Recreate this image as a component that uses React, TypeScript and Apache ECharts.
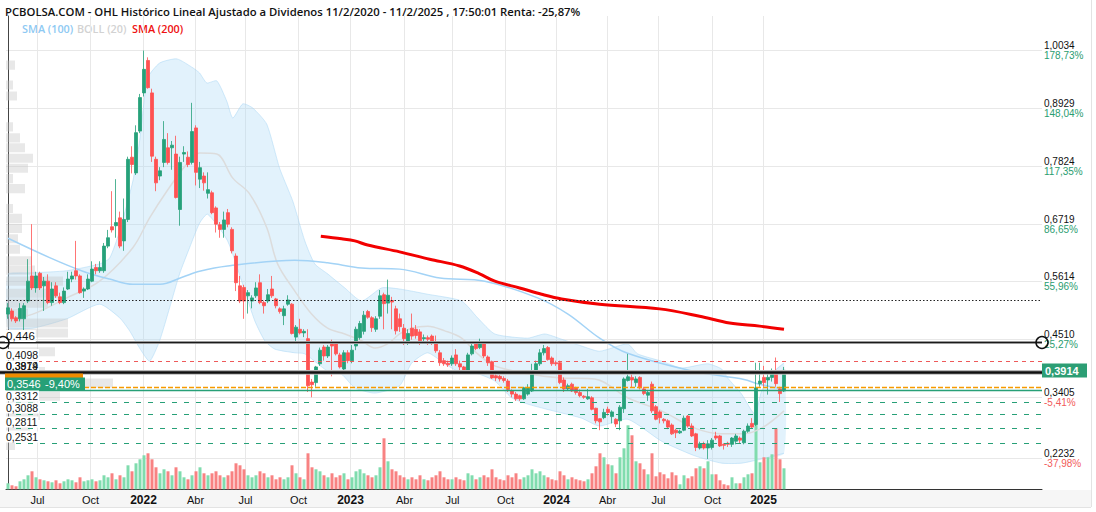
import React, { useEffect, useRef } from "react";
import * as echarts from "echarts";

const TITLE =
  "PCBOLSA.COM - OHL Histórico Lineal Ajustado a Dividenos 11/2/2020 - 11/2/2025 , 17:50:01 Renta: -25,87%";
const LEGEND_NAMES = ["SMA (100)", "BOLL (20)", "SMA (200)"];
const CATEGORY_COUNT = 259; // weekly slots incl. empty future space

// weekly candles: [open, close, low, high]
const candles: number[][] = [
  [0.499, 0.511, 0.49, 0.52], [0.505, 0.49, 0.485, 0.51], [0.492, 0.486, 0.482, 0.495], [0.49, 0.51, 0.485, 0.52],
  [0.49, 0.515, 0.444, 0.52], [0.524, 0.562, 0.52, 0.604], [0.572, 0.549, 0.545, 0.671], [0.549, 0.572, 0.54, 0.58],
  [0.577, 0.549, 0.545, 0.58], [0.553, 0.562, 0.505, 0.57], [0.562, 0.521, 0.518, 0.575], [0.521, 0.547, 0.515, 0.56],
  [0.553, 0.534, 0.53, 0.56], [0.532, 0.521, 0.518, 0.54], [0.521, 0.543, 0.518, 0.55], [0.547, 0.566, 0.545, 0.58],
  [0.566, 0.572, 0.56, 0.58], [0.582, 0.572, 0.565, 0.639], [0.572, 0.54, 0.538, 0.575], [0.543, 0.547, 0.53, 0.55],
  [0.547, 0.566, 0.545, 0.575], [0.562, 0.585, 0.56, 0.6], [0.588, 0.582, 0.575, 0.595], [0.582, 0.588, 0.578, 0.6],
  [0.582, 0.629, 0.578, 0.635], [0.629, 0.645, 0.625, 0.66], [0.666, 0.66, 0.655, 0.734], [0.668, 0.674, 0.645, 0.757],
  [0.683, 0.629, 0.625, 0.695], [0.639, 0.68, 0.62, 0.72], [0.68, 0.795, 0.675, 0.8], [0.799, 0.785, 0.768, 0.82],
  [0.769, 0.846, 0.765, 0.86], [0.849, 0.913, 0.845, 0.92], [0.922, 0.967, 0.915, 1.003], [0.984, 0.932, 0.93, 0.99],
  [0.922, 0.801, 0.79, 0.93], [0.795, 0.75, 0.734, 0.8], [0.763, 0.773, 0.755, 0.78], [0.789, 0.833, 0.78, 0.868],
  [0.817, 0.789, 0.785, 0.845], [0.817, 0.822, 0.775, 0.83], [0.805, 0.722, 0.72, 0.84], [0.699, 0.789, 0.668, 0.8],
  [0.805, 0.808, 0.79, 0.82], [0.799, 0.785, 0.78, 0.81], [0.789, 0.848, 0.785, 0.903], [0.855, 0.77, 0.745, 0.86],
  [0.757, 0.779, 0.74, 0.79], [0.763, 0.75, 0.735, 0.77], [0.73, 0.737, 0.72, 0.77], [0.731, 0.693, 0.69, 0.735],
  [0.702, 0.671, 0.655, 0.705], [0.67, 0.661, 0.645, 0.675], [0.661, 0.679, 0.645, 0.695], [0.693, 0.671, 0.665, 0.7],
  [0.661, 0.62, 0.615, 0.665], [0.61, 0.559, 0.543, 0.615], [0.553, 0.524, 0.52, 0.572], [0.55, 0.524, 0.49, 0.555],
  [0.534, 0.54, 0.5, 0.545], [0.524, 0.53, 0.51, 0.535], [0.534, 0.549, 0.53, 0.56], [0.559, 0.521, 0.518, 0.575],
  [0.521, 0.515, 0.5, 0.525], [0.524, 0.536, 0.52, 0.547], [0.547, 0.534, 0.53, 0.572], [0.528, 0.515, 0.51, 0.53],
  [0.509, 0.504, 0.5, 0.512], [0.496, 0.509, 0.478, 0.515], [0.518, 0.526, 0.515, 0.535], [0.518, 0.462, 0.46, 0.52],
  [0.455, 0.474, 0.444, 0.478], [0.47, 0.463, 0.46, 0.49], [0.463, 0.466, 0.455, 0.47], [0.452, 0.362, 0.35, 0.47],
  [0.369, 0.364, 0.34, 0.375], [0.368, 0.398, 0.36, 0.4], [0.404, 0.43, 0.4, 0.435], [0.436, 0.419, 0.41, 0.44],
  [0.419, 0.436, 0.415, 0.44], [0.444, 0.438, 0.38, 0.45], [0.442, 0.423, 0.42, 0.445], [0.421, 0.398, 0.395, 0.425],
  [0.394, 0.425, 0.39, 0.43], [0.425, 0.41, 0.405, 0.43], [0.41, 0.43, 0.405, 0.44], [0.438, 0.47, 0.43, 0.475],
  [0.454, 0.481, 0.45, 0.486], [0.466, 0.497, 0.46, 0.505], [0.504, 0.493, 0.49, 0.507], [0.492, 0.473, 0.465, 0.495],
  [0.47, 0.49, 0.465, 0.495], [0.495, 0.534, 0.49, 0.545], [0.536, 0.519, 0.47, 0.54], [0.52, 0.535, 0.5, 0.565],
  [0.525, 0.522, 0.47, 0.532], [0.509, 0.467, 0.46, 0.515], [0.49, 0.475, 0.465, 0.5], [0.472, 0.452, 0.44, 0.48],
  [0.447, 0.462, 0.44, 0.47], [0.472, 0.457, 0.45, 0.5], [0.47, 0.458, 0.452, 0.478], [0.465, 0.448, 0.44, 0.47],
  [0.452, 0.454, 0.445, 0.46], [0.454, 0.451, 0.44, 0.458], [0.457, 0.444, 0.44, 0.46], [0.444, 0.429, 0.425, 0.458],
  [0.425, 0.406, 0.4, 0.43], [0.41, 0.404, 0.4, 0.415], [0.405, 0.402, 0.398, 0.41], [0.404, 0.415, 0.4, 0.42],
  [0.421, 0.404, 0.4, 0.432], [0.404, 0.398, 0.392, 0.41], [0.398, 0.389, 0.386, 0.4], [0.392, 0.421, 0.388, 0.425],
  [0.423, 0.438, 0.42, 0.447], [0.442, 0.433, 0.43, 0.446], [0.435, 0.444, 0.432, 0.452], [0.442, 0.419, 0.415, 0.445],
  [0.417, 0.406, 0.4, 0.42], [0.408, 0.377, 0.375, 0.41], [0.381, 0.377, 0.371, 0.385], [0.38, 0.375, 0.37, 0.383],
  [0.376, 0.372, 0.368, 0.38], [0.371, 0.355, 0.35, 0.375], [0.352, 0.346, 0.34, 0.355], [0.346, 0.337, 0.333, 0.35],
  [0.343, 0.337, 0.333, 0.345], [0.337, 0.358, 0.335, 0.36], [0.346, 0.358, 0.343, 0.365], [0.352, 0.384, 0.35, 0.404],
  [0.39, 0.404, 0.386, 0.41], [0.404, 0.425, 0.4, 0.432], [0.425, 0.433, 0.42, 0.44], [0.435, 0.412, 0.41, 0.438],
  [0.415, 0.404, 0.4, 0.418], [0.406, 0.404, 0.4, 0.41], [0.406, 0.368, 0.365, 0.41], [0.373, 0.356, 0.35, 0.378],
  [0.356, 0.362, 0.352, 0.366], [0.365, 0.352, 0.35, 0.368], [0.358, 0.349, 0.345, 0.36], [0.349, 0.343, 0.34, 0.355],
  [0.342, 0.34, 0.337, 0.344], [0.337, 0.341, 0.335, 0.356], [0.339, 0.317, 0.315, 0.342], [0.319, 0.295, 0.29, 0.32],
  [0.299, 0.293, 0.277, 0.3], [0.301, 0.311, 0.298, 0.318], [0.317, 0.311, 0.305, 0.322], [0.303, 0.312, 0.29, 0.315],
  [0.298, 0.289, 0.283, 0.3], [0.295, 0.321, 0.277, 0.325], [0.318, 0.375, 0.31, 0.378], [0.372, 0.379, 0.37, 0.423],
  [0.378, 0.373, 0.358, 0.385], [0.368, 0.375, 0.36, 0.38], [0.378, 0.358, 0.355, 0.38], [0.356, 0.347, 0.344, 0.36],
  [0.344, 0.349, 0.333, 0.354], [0.365, 0.314, 0.31, 0.37], [0.322, 0.298, 0.296, 0.325], [0.312, 0.301, 0.29, 0.315],
  [0.298, 0.295, 0.29, 0.3], [0.295, 0.283, 0.279, 0.298], [0.287, 0.27, 0.268, 0.29], [0.277, 0.272, 0.262, 0.28],
  [0.272, 0.275, 0.27, 0.278], [0.277, 0.3, 0.275, 0.305], [0.304, 0.285, 0.282, 0.306], [0.285, 0.266, 0.264, 0.29],
  [0.27, 0.244, 0.237, 0.272], [0.243, 0.251, 0.24, 0.255], [0.251, 0.243, 0.24, 0.255], [0.243, 0.251, 0.222, 0.258],
  [0.244, 0.258, 0.24, 0.262], [0.266, 0.262, 0.258, 0.274], [0.266, 0.247, 0.245, 0.268], [0.25, 0.248, 0.24, 0.252],
  [0.252, 0.25, 0.245, 0.255], [0.25, 0.262, 0.245, 0.264], [0.256, 0.266, 0.25, 0.27], [0.262, 0.258, 0.252, 0.265],
  [0.253, 0.275, 0.25, 0.278], [0.275, 0.285, 0.272, 0.29], [0.29, 0.283, 0.28, 0.3], [0.288, 0.358, 0.285, 0.406],
  [0.366, 0.371, 0.36, 0.406], [0.378, 0.368, 0.36, 0.4], [0.373, 0.378, 0.345, 0.385], [0.378, 0.39, 0.37, 0.395],
  [0.389, 0.366, 0.36, 0.416], [0.356, 0.347, 0.331, 0.36], [0.352, 0.3914, 0.35, 0.398],
];

// weekly volume (estimated, arbitrary units)
const volumes: number[] = [
  6, 4, 3, 8, 10, 14, 18, 12, 10, 9, 8,
  7, 9, 6, 8, 10, 9, 7, 12, 8, 9,
  10, 8, 9, 14, 12, 16, 10, 14, 12, 24,
  18, 26, 30, 34, 36, 30, 22, 16, 20, 18,
  14, 22, 18, 12, 10, 14, 18, 22, 16, 14,
  16, 18, 14, 12, 14, 18, 26, 24, 20, 14,
  12, 14, 18, 16, 12, 14, 10, 12, 10, 12,
  24, 16, 12, 10, 36, 22, 20, 18, 14, 12,
  16, 12, 14, 16, 10, 12, 18, 20, 16, 14,
  12, 14, 22, 51, 28, 20, 18, 14, 12, 10,
  12, 10, 14, 10, 9, 12, 14, 18, 12, 10,
  10, 12, 10, 9, 16, 14, 10, 12, 14, 12,
  20, 12, 10, 9, 14, 12, 16, 10, 12, 14,
  20, 16, 18, 14, 12, 10, 9, 18, 14, 10,
  12, 10, 9, 8, 10, 16,
  23, 36, 32, 25, 24, 16, 32, 41, 64, 54,
  28, 26, 20, 15, 36, 13, 17, 15, 11, 17,
  14, 5, 14, 11, 13, 21, 23, 21, 28, 15,
  15, 9, 5, 4, 12, 6, 6, 12, 15, 16,
  70, 27, 32, 32, 35, 61, 30, 21,
];

// indicator lines, [week index, price]
const sma100: number[][] = [
  [0, 0.644], [10.4, 0.607], [18.7, 0.581], [25.4, 0.566], [31.2, 0.556], [38, 0.556], [43.7, 0.57],
  [47.9, 0.581], [54.9, 0.591], [71.7, 0.602], [79.9, 0.597], [88.4, 0.587], [97.9, 0.585], [108, 0.568],
  [119.2, 0.562], [132.4, 0.53], [140, 0.499], [147.9, 0.453], [154.9, 0.424], [171.7, 0.389], [184, 0.374],
  [187.4, 0.366], [194, 0.355],
];
const sma200: number[][] = [
  [78.2, 0.648], [83.4, 0.643], [86.7, 0.639], [89.9, 0.631], [97.9, 0.618], [105.4, 0.604], [112.9, 0.591],
  [117.9, 0.576], [121.7, 0.562], [127.9, 0.549], [133.4, 0.537], [138.4, 0.528], [147.9, 0.518], [162.9, 0.509],
  [172.9, 0.495], [180.4, 0.482], [187.9, 0.476], [194, 0.47],
];
const bollUpper: number[][] = [
  [0, 0.576], [6.2, 0.578], [14.7, 0.582], [22.9, 0.595], [25.4, 0.606], [27.9, 0.658], [31.2, 0.753],
  [32.9, 0.83], [34.9, 0.95], [37.9, 0.979], [42.2, 0.987], [46.2, 0.97], [47.9, 0.96], [49.7, 0.941],
  [52.2, 0.945], [54.7, 0.906], [56.2, 0.874], [58.7, 0.901], [61.2, 0.893], [64.7, 0.862], [67.9, 0.778],
  [71.2, 0.715], [74.2, 0.639], [76.7, 0.595], [79.9, 0.576], [84.2, 0.549], [88.4, 0.524], [93.4, 0.549],
  [97.9, 0.547], [104.9, 0.537], [113.4, 0.524], [117.4, 0.492], [121.7, 0.461], [129.9, 0.453], [134.2, 0.461],
  [138.4, 0.451], [143.4, 0.438], [147.9, 0.428], [154.9, 0.442], [157.4, 0.423], [163.4, 0.409], [168.4, 0.396],
  [174.9, 0.404], [178.4, 0.394], [179.9, 0.377], [183.4, 0.346], [186.7, 0.308], [188.4, 0.352], [190.9, 0.385],
  [194, 0.405],
];
const bollLower: number[][] = [
  [0, 0.472], [6.2, 0.472], [14.7, 0.49], [22.9, 0.518], [27.9, 0.492], [30.4, 0.467], [32.9, 0.434],
  [35.4, 0.409], [37.9, 0.448], [40.4, 0.511], [42.9, 0.576], [45.4, 0.626], [47.9, 0.673], [49.9, 0.69],
  [54.9, 0.639], [59.2, 0.543], [61.7, 0.486], [64.2, 0.448], [66.7, 0.432], [71.7, 0.425], [74.2, 0.423],
  [79.9, 0.39], [83.4, 0.384], [86.7, 0.358], [91.7, 0.348], [97.9, 0.362], [100.9, 0.405], [104.9, 0.425],
  [109.2, 0.404], [113.4, 0.386], [117.4, 0.385], [121.7, 0.371], [125.9, 0.339], [129.9, 0.327], [134.2, 0.318],
  [138.4, 0.31], [143.4, 0.3], [147.9, 0.285], [154.9, 0.298], [163.4, 0.256], [171.7, 0.228], [178.4, 0.214],
  [183.4, 0.214], [188.4, 0.222], [194, 0.233],
];
const bollMid: number[][] = [
  [2, 0.494], [6.2, 0.499], [14.7, 0.53], [22.9, 0.562], [31.2, 0.626], [35.4, 0.683], [39.7, 0.734],
  [44.7, 0.786], [47.9, 0.807], [52.2, 0.805], [56.2, 0.759], [60.4, 0.729], [64.7, 0.664], [67.4, 0.595],
  [71.7, 0.543], [75.9, 0.499], [79.9, 0.472], [84.2, 0.461], [88.4, 0.448], [91.7, 0.434], [94.9, 0.442],
  [97.9, 0.461], [100.9, 0.472], [104.9, 0.476], [109.2, 0.467], [113.4, 0.453], [117.4, 0.423], [121.7, 0.4],
  [129.9, 0.385], [138.4, 0.377], [146.7, 0.375], [154.9, 0.339], [163.4, 0.314], [171.7, 0.281], [178.4, 0.27],
  [183.4, 0.27], [188.4, 0.281], [194, 0.314],
];

// volume-at-price profile (left side)
const profilePrices: number[] = [
  0.975, 0.937, 0.916, 0.857, 0.836, 0.817, 0.797, 0.778, 0.758, 0.739, 0.701, 0.682, 0.663, 0.643, 0.623,
  0.601, 0.583, 0.562, 0.539, 0.52, 0.501, 0.482, 0.463, 0.427, 0.408, 0.389, 0.367, 0.342, 0.323, 0.305,
  0.285, 0.265, 0.248,
];
const profileVolumes: number[] = [
  10, 8, 12, 8, 15, 20, 28, 23, 8, 20, 8, 17, 17, 13, 15,
  27, 30, 58, 53, 43, 23, 63, 63, 50, 33, 40, 108, 55, 30, 35,
  25, 20, 10,
];

// price axis ticks
const priceTicks: number[] = [1.0034, 0.8929, 0.7824, 0.6719, 0.5614, 0.451, 0.3405, 0.2232];
const priceTickPct: string[] = ["178,73%", "148,04%", "117,35%", "86,65%", "55,96%", "25,27%", "-5,41%", "-37,98%"];

// time axis labels, placed at week index
const quarterLabels: string[] = ["Jul", "Oct", "2022", "Abr", "Jul", "Oct", "2023", "Abr", "Jul", "Oct", "2024", "Abr", "Jul", "Oct", "2025"];
const quarterPos: number[] = [7.18, 20.5, 33.68, 46.75, 59.25, 72.58, 85.5, 98.88, 111.08, 124.25, 137, 149.68, 162.58, 175.93, 188.83];

// horizontal study levels
const levelValues: number[] = [0.526, 0.446, 0.4098, 0.3914, 0.3879, 0.3595, 0.3546, 0.3312, 0.3088, 0.2811, 0.2531];
const levelKinds: string[] = ["dotted", "circle", "redDash", "last", "black", "orange", "green", "greenDash", "greenDash", "greenDash", "greenDash"];
const lastPctText = "-9,40%";

const fmt = (v: number, d = 4) => v.toFixed(d).replace(".", ",");

const UP = "#26a17a";
const DOWN = "#ff5252";
const AXIS_FONT = '"Liberation Sans", Arial, sans-serif';

function buildOption(): any {
  const cats = Array.from({ length: CATEGORY_COUNT }, (_, i) => String(i));
  const gridL = 6, gridR = 54, gridTop = 16, gridBottom = 22.7;

  const levelSeries = {
    type: "custom",
    xAxisIndex: 1,
    yAxisIndex: 0,
    z: 6,
    silent: true,
    clip: false,
    data: levelValues.map((v) => [0, v]),
    renderItem: (params: any, api: any) => {
      const cs = params.coordSys;
      const k = params.dataIndex;
      const v = levelValues[k];
      const y = Math.round(api.coord([0, v])[1]) + 0.5;
      const kind = levelKinds[k];
      const x1 = cs.x - 6;
      const x2 = cs.x + cs.width;
      const ch: any[] = [];
      const leftText = (t: string, ty: number, bg = "#fff") => ({
        type: "text",
        x: cs.x - 1,
        y: ty,
        style: { text: t, fill: "#111", font: `10.5px ${AXIS_FONT}`, align: "left", verticalAlign: "middle", backgroundColor: bg, padding: [0, 1] },
      });
      const blackY = Math.round(api.coord([0, levelValues[4]])[1]) + 0.5;
      if (kind === "dotted") {
        ch.push({ type: "line", shape: { x1: cs.x, y1: y, x2, y2: y }, style: { stroke: "#222", lineWidth: 1, lineDash: [1.5, 2] } });
      } else if (kind === "circle") {
        ch.push({ type: "line", shape: { x1, y1: y, x2, y2: y }, style: { stroke: "#c4c4c4", lineWidth: 3 } });
        ch.push({ type: "line", shape: { x1, y1: y, x2, y2: y }, style: { stroke: "#1a1a1a", lineWidth: 1.6 } });
        const t = leftText(fmt(v, 3), y - 6.5);
        (t.style as any).font = `11.5px ${AXIS_FONT}`;
        ch.push(t);
        ch.push({ type: "circle", shape: { cx: cs.x - 3, cy: y, r: 6 }, style: { stroke: "#111", fill: "none", lineWidth: 1.5 } });
        ch.push({ type: "circle", shape: { cx: x2, cy: y, r: 6 }, style: { stroke: "#111", fill: "none", lineWidth: 1.5 } });
      } else if (kind === "redDash") {
        ch.push({ type: "line", shape: { x1: cs.x, y1: y, x2, y2: y }, style: { stroke: "#ee5a5a", lineWidth: 1, lineDash: [4, 4] } });
        ch.push(leftText(fmt(v), y - 7));
      } else if (kind === "last") {
        ch.push({ type: "line", shape: { x1: cs.x, y1: y, x2, y2: y }, style: { stroke: "#aaa", lineWidth: 1 } });
        ch.push({ type: "rect", shape: { x: x2, y: y - 7, width: 45, height: 14 }, style: { fill: "#2c9e74" } });
        ch.push({ type: "text", x: x2 + 3, y: y, style: { text: fmt(v), fill: "#fff", font: `bold 11px ${AXIS_FONT}`, align: "left", verticalAlign: "middle" } });
        ch.push(leftText(fmt(v), blackY - 6.5));
      } else if (kind === "black") {
        ch.push({ type: "line", shape: { x1, y1: y, x2, y2: y }, style: { stroke: "#bbb", lineWidth: 4.5 } });
        ch.push({ type: "line", shape: { x1, y1: y, x2, y2: y }, style: { stroke: "#111", lineWidth: 2.6 } });
        ch.push(leftText(fmt(v), y - 6.5, "transparent"));
      } else if (kind === "orange") {
        ch.push({ type: "line", shape: { x1: cs.x + 78, y1: y, x2, y2: y }, style: { stroke: "#f59b00", lineWidth: 1.5, lineDash: [5, 2] } });
        ch.push({ type: "rect", shape: { x: cs.x - 1, y: y - 14, width: 78, height: 14 }, style: { fill: "#f08c00" } });
      } else if (kind === "green") {
        ch.push({ type: "line", shape: { x1: cs.x, y1: y, x2, y2: y }, style: { stroke: "#27a077", lineWidth: 1.5 } });
        ch.push({ type: "rect", shape: { x: cs.x - 1, y: y - 13, width: 80, height: 13 }, style: { fill: "#27a077" } });
        ch.push({ type: "text", x: cs.x + 1, y: y - 6.5, style: { text: fmt(v), fill: "#fff", font: `11px ${AXIS_FONT}`, align: "left", verticalAlign: "middle" } });
        ch.push({ type: "text", x: cs.x + 39, y: y - 6.5, style: { text: lastPctText, fill: "#fff", font: `11px ${AXIS_FONT}`, align: "left", verticalAlign: "middle" } });
      } else if (kind === "greenDash") {
        ch.push({ type: "line", shape: { x1: cs.x + 10, y1: y, x2, y2: y }, style: { stroke: "#27a077", lineWidth: 1, lineDash: [5, 7] } });
        ch.push(leftText(fmt(v), y - 6.5));
      }
      return { type: "group", children: ch };
    },
  };

  return {
    animation: false,
    backgroundColor: "#fff",
    grid: [
      { left: gridL, right: gridR, top: gridTop, bottom: gridBottom },
      { left: gridL, right: gridR, top: 400.3, bottom: gridBottom },
    ],
    xAxis: [
      {
        type: "category", gridIndex: 0, data: cats, boundaryGap: true,
        axisLine: { show: true, lineStyle: { color: "#333", width: 1 } },
        axisTick: { show: false }, axisLabel: { show: false }, splitLine: { show: false },
      },
      { type: "value", gridIndex: 0, min: -0.5, max: CATEGORY_COUNT - 0.5, show: false },
      { type: "value", gridIndex: 0, min: 0, max: 1036, show: false },
      { type: "category", gridIndex: 1, data: cats, boundaryGap: true, show: false },
    ],
    yAxis: [
      {
        type: "value", gridIndex: 0, position: "right", min: 0.164, max: 1.069, scale: true,
        axisLine: { show: true, lineStyle: { color: "#444", width: 1 } },
        axisTick: { show: false }, axisLabel: { show: false }, splitLine: { show: false },
      },
      { type: "value", gridIndex: 1, min: 0, max: 89, show: false },
    ],
    graphic: [
      { type: "rect", shape: { x: 0, y: 490, width: 1091, height: 17 }, style: { fill: "#f6f6f6" }, z: -5 },
      { type: "line", shape: { x1: 0, y1: 507.5, x2: 1091, y2: 507.5 }, style: { stroke: "#e3e3e3" } },
      { type: "line", shape: { x1: 1091.5, y1: 0, x2: 1091.5, y2: 507 }, style: { stroke: "#e3e3e3" } },
      { type: "text", x: 5, y: 11, style: { text: TITLE, fill: "#111", font: '600 11.3px "Open Sans"', verticalAlign: "middle" } },
      { type: "text", x: 22, y: 28, style: { text: LEGEND_NAMES[0], fill: "#8ec9f3", font: '600 10.8px "Open Sans"', verticalAlign: "middle" } },
      { type: "text", x: 77, y: 28, style: { text: LEGEND_NAMES[1], fill: "#d2d2d2", font: '600 10.8px "Open Sans"', verticalAlign: "middle" } },
      { type: "text", x: 132, y: 28, style: { text: LEGEND_NAMES[2], fill: "#ee1111", font: '600 10.8px "Open Sans"', verticalAlign: "middle" } },
    ],
    series: [
      // horizontal grid + right axis labels
      {
        type: "custom", xAxisIndex: 1, yAxisIndex: 0, z: 0, silent: true, clip: false,
        data: priceTicks.map((p) => [0, p]),
        renderItem: (params: any, api: any) => {
          const cs = params.coordSys;
          const k = params.dataIndex;
          const p = priceTicks[k];
          const y = Math.round(api.coord([0, p])[1]) + 0.5;
          const pct = priceTickPct[k];
          const neg = pct.charAt(0) === "-";
          const xr = cs.x + cs.width;
          return {
            type: "group",
            children: [
              { type: "line", shape: { x1: cs.x, y1: y, x2: xr, y2: y }, style: { stroke: "#e8e8e8", lineWidth: 1 } },
              { type: "text", x: xr + 2, y: y - 5, style: { text: fmt(p), fill: "#111", font: `10px ${AXIS_FONT}`, align: "left", verticalAlign: "middle" } },
              { type: "text", x: xr + 2, y: y + 5, style: { text: pct, fill: neg ? "#f25b5b" : "#2a9d70", font: `10px ${AXIS_FONT}`, align: "left", verticalAlign: "middle" } },
            ],
          };
        },
      },
      // vertical grid + time labels
      {
        type: "custom", xAxisIndex: 1, yAxisIndex: 0, z: 0, silent: true, clip: false,
        data: quarterPos.map((p) => [p, 0.5]),
        renderItem: (params: any, api: any) => {
          const cs = params.coordSys;
          const k = params.dataIndex;
          const x = Math.round(api.coord([quarterPos[k], 0.5])[0]) + 0.5;
          const lab = quarterLabels[k];
          const isYear = /^\d{4}$/.test(lab);
          return {
            type: "group",
            children: [
              { type: "line", shape: { x1: x, y1: cs.y, x2: x, y2: cs.y + cs.height }, style: { stroke: "#e8e8e8", lineWidth: 1 } },
              {
                type: "text", x, y: cs.y + cs.height + 10.5,
                style: { text: lab, fill: "#111", font: isYear ? `bold 12px ${AXIS_FONT}` : `11px ${AXIS_FONT}`, align: "center", verticalAlign: "middle" },
              },
            ],
          };
        },
      },
      // Bollinger band
      {
        type: "custom", xAxisIndex: 1, yAxisIndex: 0, z: 1, silent: true, clip: true,
        data: [[0, 0.5]],
        renderItem: (params: any, api: any) => {
          const up = bollUpper.map((d) => api.coord(d));
          const lo = bollLower.map((d) => api.coord(d));
          return {
            type: "group",
            children: [
              { type: "polygon", shape: { points: up.concat(lo.slice().reverse()), smooth: 0.2 }, style: { fill: "rgba(175,218,248,0.36)", stroke: "none" } },
              { type: "polyline", shape: { points: up, smooth: 0.2 }, style: { stroke: "rgba(160,210,245,0.45)", lineWidth: 1, fill: "none" } },
              { type: "polyline", shape: { points: lo, smooth: 0.2 }, style: { stroke: "rgba(160,210,245,0.45)", lineWidth: 1, fill: "none" } },
            ],
          };
        },
      },
      // volume profile
      {
        type: "custom", xAxisIndex: 2, yAxisIndex: 0, z: 1, silent: true, clip: true,
        data: profilePrices.map((p, k) => [profileVolumes[k], p]),
        renderItem: (params: any, api: any) => {
          const k = params.dataIndex;
          const p = profilePrices[k];
          const a = api.coord([0, p + 0.0087]);
          const b = api.coord([profileVolumes[k], p - 0.0087]);
          return { type: "rect", shape: { x: a[0] - 1, y: a[1], width: b[0] - a[0], height: b[1] - a[1] }, style: { fill: "rgba(195,195,195,0.38)" } };
        },
      },
      {
        type: "line", name: "BOLL (20)", xAxisIndex: 1, yAxisIndex: 0, data: bollMid, smooth: 0.35, symbol: "none", z: 2, silent: true,
        lineStyle: { color: "#dcdcdc", width: 1.5 },
      },
      {
        type: "line", name: "SMA (100)", xAxisIndex: 1, yAxisIndex: 0, data: sma100, smooth: 0.35, symbol: "none", z: 2, silent: true,
        lineStyle: { color: "#a3d3f6", width: 1.5 },
      },
      {
        type: "line", name: "SMA (200)", xAxisIndex: 1, yAxisIndex: 0, data: sma200, smooth: 0.35, symbol: "none", z: 2, silent: true,
        lineStyle: { color: "#f20000", width: 3 },
      },
      {
        type: "bar", xAxisIndex: 3, yAxisIndex: 1, barWidth: 3, z: 2, silent: true,
        data: volumes.map((v, i) => ({
          value: v,
          itemStyle: { color: candles[i][1] >= candles[i][0] ? "#80dcae" : "#f88282" },
        })),
      },
      {
        type: "candlestick", xAxisIndex: 0, yAxisIndex: 0, z: 4, silent: true, barWidth: 3,
        data: candles,
        itemStyle: { color: UP, color0: DOWN, borderColor: UP, borderColor0: DOWN, borderWidth: 0.8 },
      },
      levelSeries,
    ],
  };
}

export default function App() {
  const ref = useRef<HTMLDivElement>(null);
  useEffect(() => {
    if (!ref.current) return;
    const chart = echarts.init(ref.current, null, { renderer: "svg" });
    chart.setOption(buildOption());
    return () => chart.dispose();
  }, []);
  return (
    <div
      ref={ref}
      style={{ position: "fixed", left: 0, top: 0, width: 1096, height: 512, background: "#fff" }}
    />
  );
}
